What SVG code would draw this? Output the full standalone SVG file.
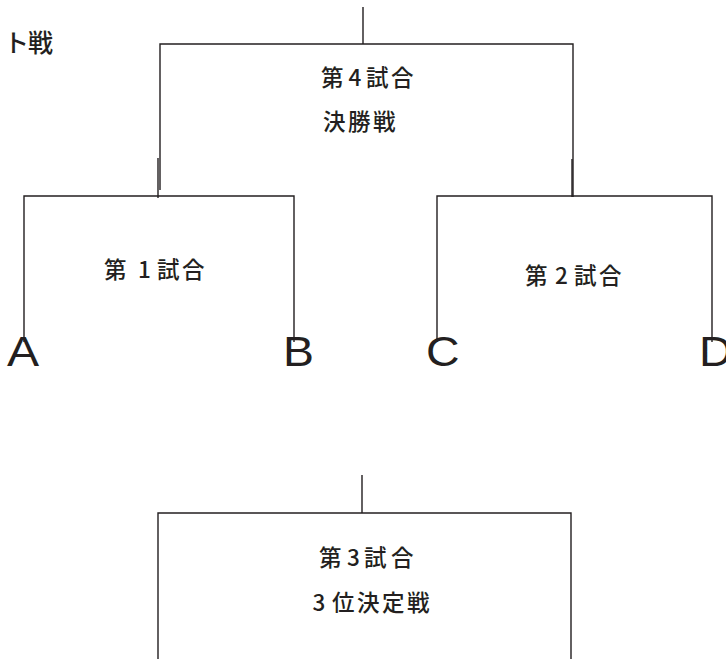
<svg xmlns="http://www.w3.org/2000/svg" width="726" height="659" viewBox="0 0 726 659">
<style>
.ln{stroke:#231f20;stroke-width:1.4;fill:none}
.jp{font-family:"Noto Sans CJK JP","Noto Sans",sans-serif;font-size:22.5px;font-weight:500;fill:#231f20}
.lt{font-family:"Liberation Sans",Arial,sans-serif;font-size:43px;fill:#231f20}
</style>
<rect width="726" height="659" fill="#fff"/>
<g id="connectors">
<path class="ln" d="M363 7V44M160 190V44H573V197"/>
<path class="ln" d="M158 158V198M572 159V197"/>
<path class="ln" d="M24 342V196H294V342"/>
<path class="ln" d="M437 342V196H712V342"/>
<path class="ln" d="M362 475V513H571V659M158 659V513H362"/>
</g>
<g id="title"><text class="jp" style="font-size:25px" x="4 28" y="52">ト戦</text></g>
<g id="match4">
<text class="jp" x="321 348.5 366 391" y="86">第4試合</text>
<text class="jp" x="323 348 373" y="130">決勝戦</text>
</g>
<g id="match1"><text class="jp" x="104 138 157 182" y="278">第1試合</text></g>
<g id="match2"><text class="jp" x="525 555 574 599" y="284">第2試合</text></g>
<g id="match3">
<text class="jp" x="319 347 364 391" y="566">第3試合</text>
<text class="jp" x="312.5 332 357 382 407" y="611">3位決定戦</text>
</g>
<g id="players">
<text class="lt" transform="translate(7 366) scale(1.12 1)" x="0" y="0">A</text>
<text class="lt" transform="translate(283 366) scale(1.08 1)" x="0" y="0">B</text>
<text class="lt" transform="translate(426 366) scale(1.08 1)" x="0" y="0">C</text>
<text class="lt" transform="translate(699 366) scale(1.08 1)" x="0" y="0">D</text>
</g>
</svg>
